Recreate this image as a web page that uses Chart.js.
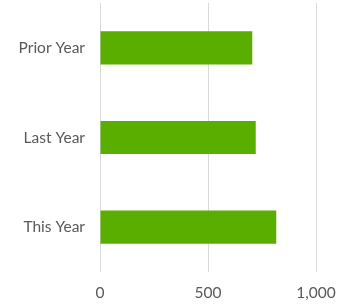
<!DOCTYPE html>
<html>
<head>
<meta charset="utf-8">
<script src="https://cdn.jsdelivr.net/npm/chart.js@4/dist/chart.umd.min.js"></script>
<style>
  html, body { margin: 0; padding: 0; background: #fff; }
  #wrap { width: 342px; height: 305px; }
</style>
</head>
<body>
<div id="wrap"><canvas id="chart" width="342" height="305"></canvas></div>
<script>
// データ
const categories = ['Prior Year', 'Last Year', 'This Year'];
const values = [705, 721, 816];
const xTicks = [0, 500, 1000];

const textColor = '#595959';
const gridColor = '#d9d9d9';
const fontFamily = 'Lato, "Open Sans", sans-serif';

const ctx = document.getElementById('chart').getContext('2d');
new Chart(ctx, {
    type: 'bar',
    data: {
        labels: categories,
        datasets: [{
            data: values,
            backgroundColor: '#59ae00',
            borderWidth: 0,
            barPercentage: 0.37,
            categoryPercentage: 1
        }]
    },
    options: {
        indexAxis: 'y',
        responsive: false,
        animation: false,
        layout: { padding: { top: 3, right: 26, left: 0, bottom: 0 } },
        plugins: {
            legend: { display: false },
            tooltip: { enabled: false }
        },
        scales: {
            x: {
                min: 0,
                max: 1000,
                afterBuildTicks: (axis) => {
                    axis.ticks = xTicks.map(v => ({ value: v }));
                },
                // 軸の余白を固定
                afterFit: (axis) => {
                    axis.height = 33;
                    axis.paddingLeft = 0;
                    axis.paddingRight = 0;
                },
                grid: { color: gridColor, lineWidth: 1, drawTicks: false },
                border: { display: false },
                ticks: {
                    color: textColor,
                    font: { family: fontFamily, size: 15.5 },
                    padding: 12,
                    maxRotation: 0,
                    callback: (v) => v.toLocaleString('en-US')
                }
            },
            y: {
                afterFit: (axis) => {
                    axis.width = 100;
                    axis.paddingTop = 0;
                    axis.paddingBottom = 0;
                },
                grid: { display: false, drawTicks: false },
                border: { display: false },
                ticks: {
                    color: textColor,
                    font: { family: fontFamily, size: 15.5 },
                    padding: 15
                }
            }
        }
    }
});
</script>
</body>
</html>
